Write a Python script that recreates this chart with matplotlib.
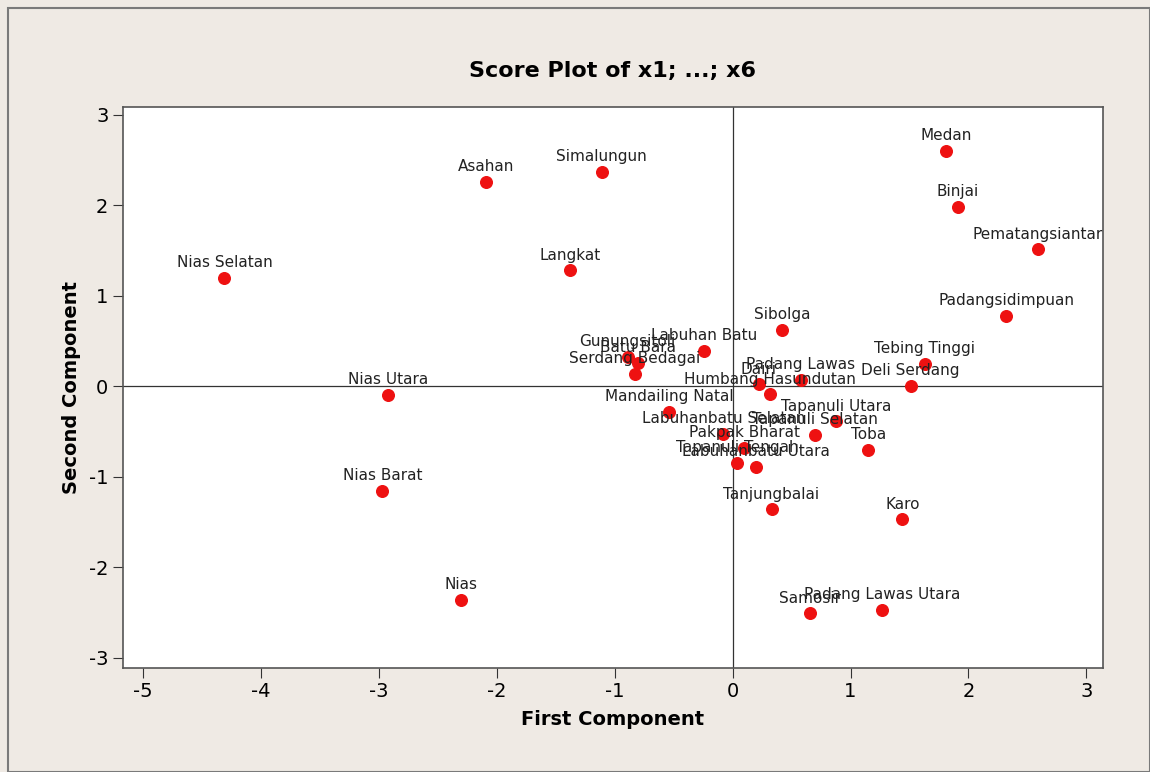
import matplotlib
matplotlib.use('Agg')
import matplotlib.pyplot as plt
from matplotlib.patches import Rectangle

plt.rcParams['axes.unicode_minus'] = False

# Scores
labels = [
    'Nias Selatan', 'Asahan', 'Simalungun', 'Langkat', 'Medan', 'Binjai',
    'Pematangsiantar', 'Padangsidimpuan', 'Sibolga', 'Tebing Tinggi',
    'Deli Serdang', 'Padang Lawas', 'Dairi', 'Humbang Hasundutan',
    'Labuhan Batu', 'Gunungsitoli', 'Batu Bara', 'Serdang Bedagai',
    'Nias Utara', 'Mandailing Natal', 'Tapanuli Utara', 'Tapanuli Selatan',
    'Toba', 'Labuhanbatu Selatan', 'Pakpak Bharat', 'Tapanuli Tengah',
    'Labuhanbatu Utara', 'Tanjungbalai', 'Karo', 'Nias Barat', 'Nias',
    'Samosir', 'Padang Lawas Utara',
]
first_comp = [
    -4.31, -2.09, -1.11, -1.38, 1.81, 1.91,
    2.59, 2.32, 0.42, 1.63,
    1.51, 0.58, 0.22, 0.32,
    -0.24, -0.89, -0.80, -0.83,
    -2.92, -0.54, 0.88, 0.70,
    1.15, -0.08, 0.10, 0.04,
    0.20, 0.33, 1.44, -2.97, -2.30,
    0.66, 1.27,
]
second_comp = [
    1.20, 2.26, 2.37, 1.28, 2.60, 1.98,
    1.51, 0.78, 0.62, 0.25,
    0.00, 0.07, 0.02, -0.09,
    0.39, 0.32, 0.26, 0.14,
    -0.10, -0.28, -0.39, -0.54,
    -0.70, -0.53, -0.68, -0.85,
    -0.89, -1.36, -1.47, -1.16, -2.36,
    -2.51, -2.47,
]
x_ticks = [-5, -4, -3, -2, -1, 0, 1, 2, 3]
y_ticks = [-3, -2, -1, 0, 1, 2, 3]

bg = '#efeae4'
fig = plt.figure(figsize=(11.5, 7.72), dpi=100, facecolor=bg)
fig.patches.append(Rectangle((0.007, 0.0), 0.993, 0.99, transform=fig.transFigure,
                             fill=False, edgecolor='#7a7a7a', linewidth=1.5))

ax = fig.add_axes([0.107, 0.135, 0.852, 0.726])
ax.set_facecolor('white')

ax.axhline(0, color='#333333', linewidth=0.9, zorder=1)
ax.axvline(0, color='#333333', linewidth=0.9, zorder=1)

ax.scatter(first_comp, second_comp, s=70, color='#ee1111', edgecolors='#ee1111',
           zorder=3)
for name, xv, yv in zip(labels, first_comp, second_comp):
    ax.annotate(name, (xv, yv), xytext=(0, 11), textcoords='offset points',
                ha='center', va='center', fontsize=11, color='#222222',
                zorder=4)

ax.set_xlim(-5.17, 3.14)
ax.set_ylim(-3.11, 3.08)
ax.set_xticks(x_ticks)
ax.set_yticks(y_ticks)
ax.tick_params(axis='both', labelsize=14, length=7, direction='out',
               color='#333333')
for sp in ax.spines.values():
    sp.set_color('#555555')
    sp.set_linewidth(1.2)

ax.set_title('Score Plot of x1; ...; x6', fontsize=16, fontweight='bold', pad=22)
ax.set_xlabel('First Component', fontsize=14, fontweight='bold', labelpad=6)
ax.set_ylabel('Second Component', fontsize=14, fontweight='bold', labelpad=6)

plt.savefig('out.png', dpi=100, facecolor=bg)
plt.close()
